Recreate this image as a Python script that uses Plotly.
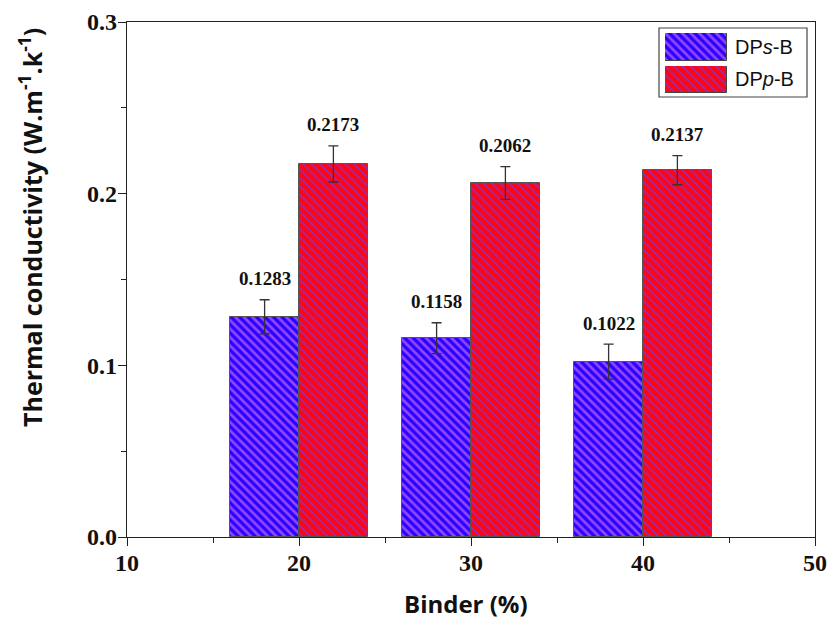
import plotly.graph_objects as go

# Binder content (%) and measured thermal conductivity (W.m-1.k-1)
binder = [20, 30, 40]
dps_b = [0.1283, 0.1158, 0.1022]
dpp_b = [0.2173, 0.2062, 0.2137]
dps_err = [0.0099, 0.0090, 0.0102]
dpp_err = [0.0105, 0.0095, 0.0085]
series_names = ["DP<i>s</i>-B", "DP<i>p</i>-B"]
x_title = "Binder (%)"
y_title = "Thermal conductivity (W.m<sup>-1</sup>.k<sup>-1</sup>)"

BAR_W = 4
W, H = 831, 619
ML, MR, MT, MB = 127, 16, 22, 82

BLUE_BG, BLUE_FG = "#2a00ff", "#9248ff"
RED_BG, RED_FG = "#ff0414", "#7a38e0"

label_font = dict(family="Liberation Serif, Times New Roman, serif", size=19,
                  color="#111", weight="bold")
tick_font = dict(family="Liberation Serif, Times New Roman, serif", size=24,
                 color="#111", weight="bold")
title_font = dict(family="Open Sans, sans-serif", color="#111", weight="bold")


def pattern(bg, fg, solidity):
    return dict(shape="\\", bgcolor=bg, fgcolor=fg, size=6,
                solidity=solidity, fillmode="replace")


def px_x(p):
    return (p - ML) / (W - ML - MR)


def px_y(p):
    return (H - MB - p) / (H - MT - MB)


fig = go.Figure()

specs = [
    (dps_b, dps_err, -BAR_W, BLUE_BG, BLUE_FG, 0.45, (33, 61)),
    (dpp_b, dpp_err, 0, RED_BG, RED_FG, 0.2, (66, 93)),
]
for i, ((vals, errs, off, bg, fg, sol, sw), name) in enumerate(zip(specs, series_names)):
    fig.add_trace(go.Bar(
        x=binder, y=vals, width=BAR_W, offset=off, name=name,
        marker=dict(color=bg, pattern=pattern(bg, fg, sol),
                    line=dict(color="#555", width=1)),
        error_y=dict(type="data", array=errs, visible=True,
                     color="#333", thickness=1.3, width=5),
        showlegend=False,
    ))
    for xb, v, e in zip(binder, vals, errs):
        fig.add_annotation(
            x=xb + off + BAR_W / 2, y=v + e, text=f"{v:.4f}",
            showarrow=False, yanchor="middle", yshift=21,
            font=label_font,
        )

    # legend swatch on its own small axis pair
    ax = i + 2
    fig.add_trace(go.Bar(
        x=[1], y=[0], orientation="h", width=1,
        xaxis=f"x{ax}", yaxis=f"y{ax}", showlegend=False, hoverinfo="skip",
        marker=dict(color=bg, pattern=pattern(bg, fg, sol),
                    line=dict(color="#444", width=1)),
    ))
    fig.layout[f"xaxis{ax}"] = dict(domain=[px_x(665), px_x(727)],
                                    range=[0, 1], visible=False,
                                    fixedrange=True, anchor=f"y{ax}")
    fig.layout[f"yaxis{ax}"] = dict(domain=[px_y(sw[1]), px_y(sw[0])],
                                    range=[-0.5, 0.5], visible=False,
                                    fixedrange=True, anchor=f"x{ax}")
    fig.add_annotation(x=px_x(733), y=px_y((sw[0] + sw[1]) / 2),
                       xref="paper", yref="paper",
                       text=name, showarrow=False,
                       xanchor="left", yanchor="middle",
                       font=dict(family="Liberation Sans, Arial, sans-serif",
                                 size=20, color="#111"))

fig.add_shape(type="rect", xref="paper", yref="paper",
              x0=px_x(659), x1=px_x(807), y0=px_y(97), y1=px_y(28),
              line=dict(color="#444", width=1.2), fillcolor="white",
              layer="below")

# axis titles
fig.add_annotation(x=px_x(466), y=px_y(603), xref="paper", yref="paper",
                   text=x_title, showarrow=False,
                   xanchor="center", yanchor="middle",
                   font=dict(size=24, **title_font))
fig.add_annotation(x=px_x(30), y=px_y(228), xref="paper", yref="paper",
                   text=y_title, showarrow=False, textangle=-90,
                   xanchor="center", yanchor="middle",
                   font=dict(size=25, **title_font))

axis_line = dict(showline=True, linecolor="#222", linewidth=1.3, mirror=True,
                 ticks="outside", tickcolor="#222", tickwidth=1.3, ticklen=8,
                 showgrid=False, zeroline=False, tickfont=tick_font,
                 automargin=False, ticklabelstandoff=-4)

fig.update_layout(
    width=W, height=H,
    margin=dict(l=ML, r=MR, t=MT, b=MB),
    paper_bgcolor="white", plot_bgcolor="rgba(0,0,0,0)",
    xaxis=dict(range=[10, 50], tickvals=[10, 20, 30, 40, 50],
               minor=dict(dtick=5, ticks="outside", ticklen=5,
                          tickcolor="#222", tickwidth=1.3),
               **axis_line),
    yaxis=dict(range=[0, 0.3], dtick=0.1, tickformat=".1f",
               minor=dict(dtick=0.05, ticks="outside", ticklen=5,
                          tickcolor="#222", tickwidth=1.3),
               **axis_line),
    bargap=0,
)

fig.write_html("out.html")
